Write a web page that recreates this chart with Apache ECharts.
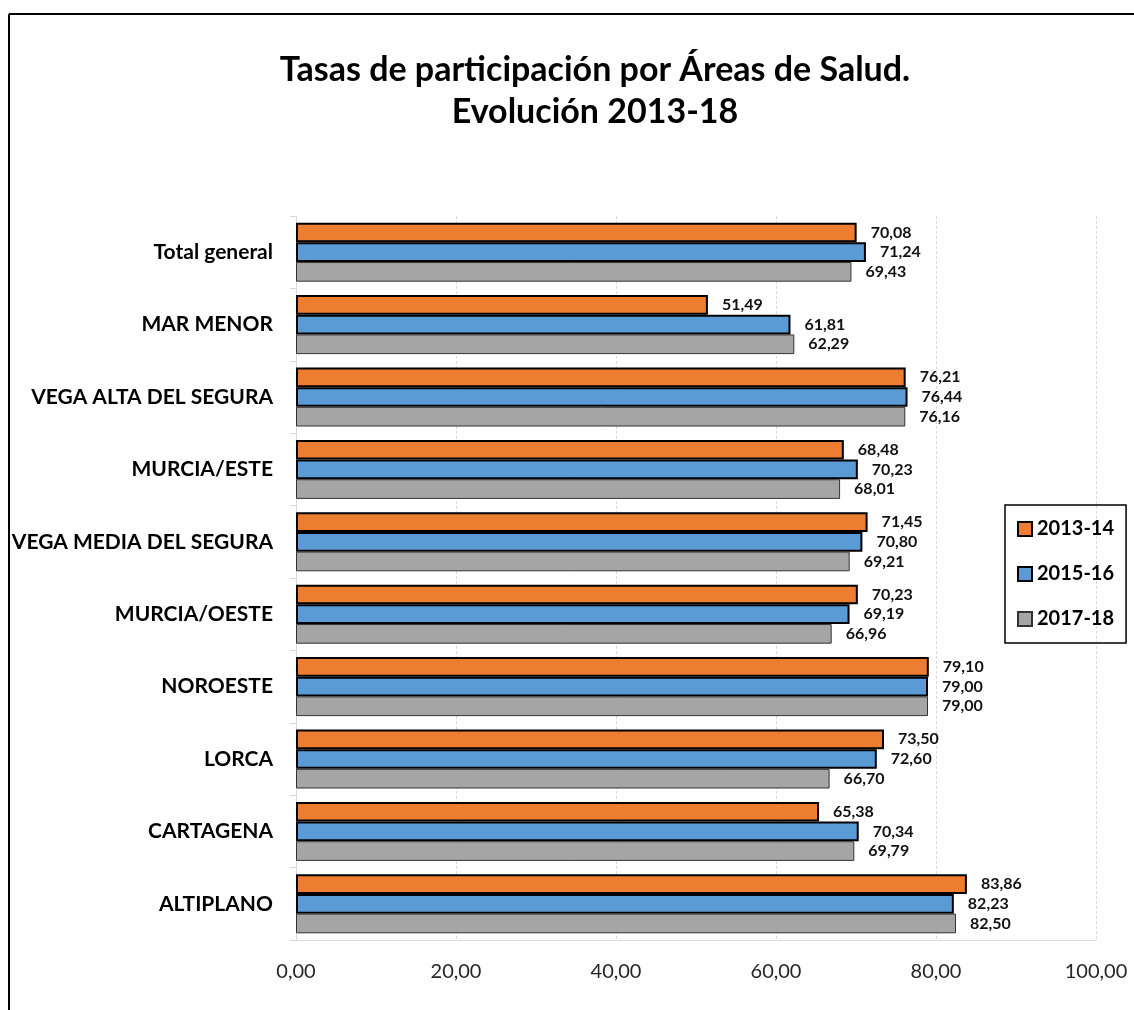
<!DOCTYPE html>
<html>
<head>
<meta charset="utf-8">
<script src="https://cdn.jsdelivr.net/npm/echarts@6/dist/echarts.min.js"></script>
<style>
html,body{margin:0;padding:0;background:#fff;}
#chart{width:1134px;height:1010px;}
</style>
</head>
<body>
<div id="chart"></div>
<script>
var categories = ['Total general','MAR MENOR','VEGA ALTA DEL SEGURA','MURCIA/ESTE','VEGA MEDIA DEL SEGURA','MURCIA/OESTE','NOROESTE','LORCA','CARTAGENA','ALTIPLANO'];
var seriesNames = ['2013-14','2015-16','2017-18'];
var values2013_14 = [70.08,51.49,76.21,68.48,71.45,70.23,79.10,73.50,65.38,83.86];
var values2015_16 = [71.24,61.81,76.44,70.23,70.80,69.19,79.00,72.60,70.34,82.23];
var values2017_18 = [69.43,62.29,76.16,68.01,69.21,66.96,79.00,66.70,69.79,82.50];
var xTicks = [0,20,40,60,80,100];

var FONT = 'Lato, "Open Sans", sans-serif';
function fmt(v){ return Number(v).toFixed(2).replace('.', ','); }

function mkSeries(name, data, color, bw, bc){
  return {
    name: name, type: 'bar', data: data,
    barGap: '0%', barCategoryGap: '18.5%',
    itemStyle: {color: color, borderColor: bc, borderWidth: bw},
    label: {show: true, position: 'right', distance: 14, formatter: function(p){return fmt(p.value);},
            fontFamily: FONT, fontWeight: 'bold', fontSize: 16, color: '#111'},
    emphasis: {disabled: true}
  };
}

var chart = echarts.init(document.getElementById('chart'), null, {renderer:'canvas'});
chart.setOption({
  animation: false,
  backgroundColor: '#fff',
  title: {
    text: 'Tasas de participación por Áreas de Salud.\nEvolución 2013-18',
    left: 590, top: 44, textAlign: 'center',
    textStyle: {fontFamily: FONT, fontWeight: 'bold', fontSize: 34, lineHeight: 42, color: '#000'}
  },
  legend: {
    orient: 'vertical', left: 1005, top: 505,
    padding: [12, 12, 12, 12], itemGap: 21,
    itemWidth: 14, itemHeight: 14, icon: 'rect',
    borderColor: '#000', borderWidth: 1.5,
    textStyle: {fontFamily: FONT, fontWeight: 'bold', fontSize: 20, lineHeight: 24, color: '#000'},
    data: seriesNames
  },
  grid: {left: 296, right: 38, top: 216, bottom: 70, containLabel: false},
  xAxis: {
    type: 'value', min: 0, max: 100, interval: 20,
    axisLine: {show: true, lineStyle: {color: '#d9d9d9'}},
    axisTick: {show: false},
    splitLine: {show: true, lineStyle: {color: '#d9d9d9', type: [3,2]}},
    axisLabel: {margin: 22, fontFamily: FONT, fontSize: 20, color: '#262626', formatter: function(v){return fmt(v);},
      customValues: xTicks}
  },
  yAxis: {
    type: 'category', data: categories, inverse: true,
    axisLine: {show: true, lineStyle: {color: '#d9d9d9'}},
    axisTick: {show: true, length: 6, lineStyle: {color: '#d9d9d9'}},
    axisLabel: {margin: 23, fontFamily: FONT, fontWeight: 'bold', fontSize: 21, color: '#000'}
  },
  series: [
    mkSeries(seriesNames[0], values2013_14, '#ED7D31', 2, '#000'),
    mkSeries(seriesNames[1], values2015_16, '#5B9BD5', 2, '#000'),
    mkSeries(seriesNames[2], values2017_18, '#A5A5A5', 1, '#333')
  ],
  graphic: [
    {type: 'line', shape: {x1: 9, y1: 14, x2: 9, y2: 1010}, style: {stroke: '#000', lineWidth: 2}},
    {type: 'line', shape: {x1: 9, y1: 14, x2: 1134, y2: 14}, style: {stroke: '#000', lineWidth: 2}}
  ]
});
</script>
</body>
</html>
